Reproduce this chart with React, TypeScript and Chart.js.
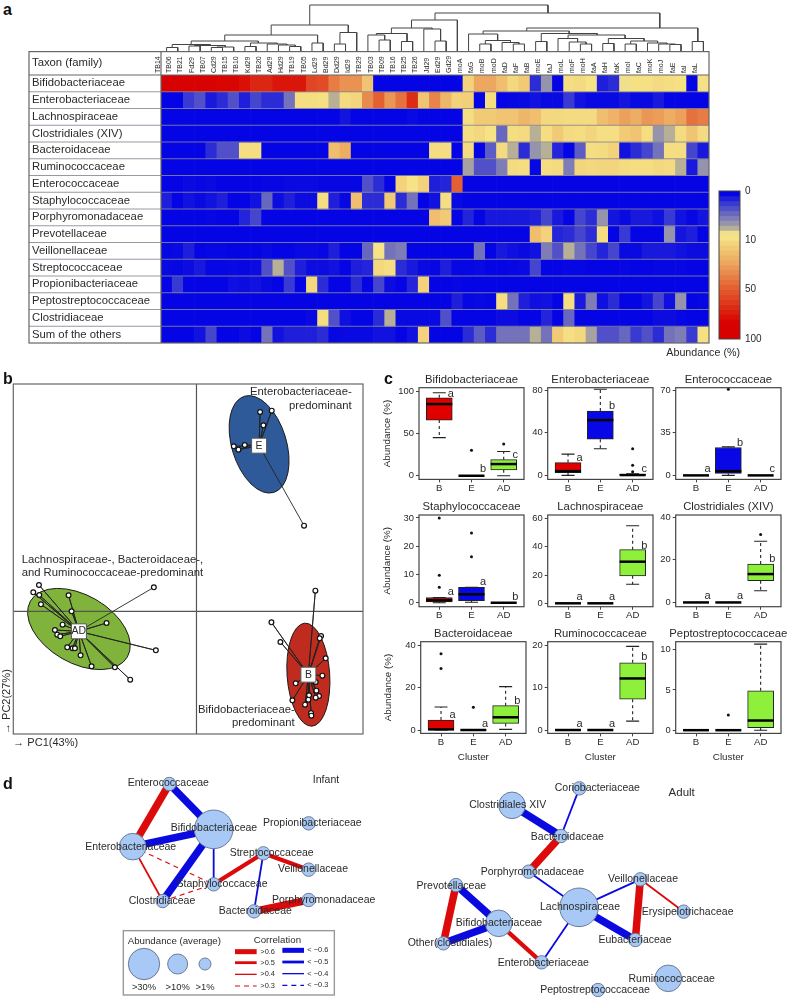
import React, { useEffect, useRef } from 'react';
import { Chart, registerables } from 'chart.js';
Chart.register(...registerables);

const FONT = '"Liberation Sans", Arial, sans-serif';
const INK = '#2a2a2a';

/* ---------- panel a data ---------- */
const samples = ['TB14','TB06','TB21','Fd29','TB07','Cd29','TB15','TB10','Kd29','TB20','Ad29','Hd29','TB19','TB05','Ld29','Bd29','Dd29','Id29','TB29','TB03','TB09','TB16','TB25','TB26','Jd29','Ed29','Gd29','moA','faG','moB','moD','faD','faF','faB','moE','faJ','moL','moF','moH','faA','faH','faK','moI','faC','moK','moJ','faE','faI','faL'];
const families = ['Bifidobacteriaceae','Enterobacteriaceae','Lachnospiraceae','Clostridiales (XIV)','Bacteroidaceae','Ruminococcaceae','Enterococcaceae','Staphylococcaceae','Porphyromonadaceae','Prevotellaceae','Veillonellaceae','Streptococcaceae','Propionibacteriaceae','Peptostreptococcaceae','Clostridiaceae','Sum of the others'];
const rowBifido = [95,88,86,86,86,84,84,80,72,72,78,78,78,60,58,42,36,36,20,0,0,0,0,0,0,0,0,15,30,30,22,13,18,1.5,6,0,11,12,9,1,1.5,8,10,10,12,11,10,0,10];
const rowEntero = [0,0,2,3,.8,1.5,3,1,2.5,1.5,1.5,4.5,11,11,10,7,12,14,38,50,35,45,70,20,40,25,15,16,0,11,0,.1,.2,.5,.2,.2,2,.5,.2,.2,.2,.6,.2,.2,.8,0,0,0,0];
const rowLachno = [0,0,0,0,0,0,0,0,0,0,0,0,0,0,0,0,.6,0,0,0,0,0,.2,0,0,0,0,11,18,18,20,20,25,22,13,13,12,12,12,22,26,32,28,35,33,28,32,45,42];
const rowClostXIV = [0,0,0,0,0,0,0,0,0,0,0,0,0,0,0,0,0,0,0,0,0,0,0,0,0,0,0,11,13,9,4,11,12,7,11,18,12,11,14,10.5,10.5,18,20,11,6,7,12,20,12];
const rowBacteroid = [0,0,0,0,1.5,3,3,11,11,0,0,0,0,0,0,22,28,0,0,0,0,0,0,0,11,11,0,12,0,3.5,12,7,1.5,6,7,1.2,0,3.5,11,12,15,.5,1.5,2.5,4.5,11,11,2.5,.8];
const rowRumino = [0,0,0,0,0,0,0,0,0,0,0,0,0,0,0,0,0,0,0,0,0,0,0,0,0,0,0,6.5,3,3,5,12,11,.1,11,12,5,14,13,14,14,12,11,11,13,12,7,.8,6];
const rowEnteroc = [0,0,.2,.1,.2,0,0,0,0,.1,.1,.2,.2,.2,.1,.1,.1,.1,3,1.5,0,15,9,15,1,1.2,50,0,0,0,0,0,0,0,0,0,0,0,0,0,0,0,0,0,0,0,0,0,0];
const rowStaph = [1,0,.5,.2,.5,1,0,0,.5,4,.3,1,.3,.3,11,1,.1,22,1.5,1.5,18,1.5,4.5,0,.5,11,.2,0,0,0,0,0,0,0,0,0,0,0,0,0,0,0,0,0,0,0,0,0,0];
const rowPorphyro = [0,0,0,0,.1,0,0,1.2,2.5,0,0,0,0,0,0,0,0,0,0,0,0,0,0,0,22,18,0,1.2,0,.7,.7,.8,.8,1,2.5,.8,0,2.5,1.5,6,.6,.2,.8,.8,.4,2,.5,.1,.6];
const rowPrevo = [0,0,0,0,0,0,0,0,0,0,0,0,0,0,0,0,0,0,0,0,0,0,0,0,0,0,0,0,0,0,0,0,0,22,15,1.2,1.5,2.5,1.5,11,0,2,0,0,0,6,.6,1,0];
const rowVeillon = [.1,.2,1,0,.1,.1,0,0,0,.2,0,0,.2,.2,.1,1,0,0,4,9,4.5,5,0,0,0,0,0,0,4.5,0,.8,.4,.2,.5,5,3,7,4.5,2.5,1.2,2.5,.2,.2,.8,.8,.8,.5,.3,.3];
const rowStrepto = [.2,.1,.3,.8,.1,.1,.2,.1,.3,3,7,3,1,.3,.3,.5,0,1,1.2,13,11,1.5,.8,.2,.1,1,.1,.1,.2,0,0,.1,.2,2.5,0,0,.1,.1,0,0,0,.1,0,0,.1,.1,.1,0,0];
const rowPropioni = [0,2,0,0,0,0,.4,.3,.5,.2,0,2,0,13,1.5,0,0,1.5,0,2.5,.3,0,1.2,15,0,0,.1,0,0,0,0,0,0,0,0,0,0,0,0,0,0,0,0,0,0,0,0,0,0];
const rowPepto = [0,0,0,0,0,0,0,0,0,0,0,0,0,0,0,0,0,0,0,0,0,0,0,0,0,0,1,.1,.2,.1,11,4.5,1,.4,.5,0,11,.8,5,.4,1.5,0,0,.6,2.5,.4,6,0,.1];
const rowClostridiac = [0,0,0,0,0,0,0,0,0,0,0,0,0,.2,11,3,.4,0,0,1.5,7,.2,.2,.2,.2,3,0,0,0,0,.3,.3,0,0,1.2,0,4,0,0,0,0,0,0,0,.3,.3,.1,0,0];
const rowOthers = [0,0,0,.5,2.5,0,0,.3,0,4.5,.5,1,1,1,1.5,.1,.2,.2,.2,.5,.5,0,.5,15,0,0,0,1.5,3.5,1.5,4.5,4.5,4.5,7,4.5,18,10.5,13,6.5,3,3,4,2,3,1.5,4.5,5,2,10];
const heatRows = [rowBifido,rowEntero,rowLachno,rowClostXIV,rowBacteroid,rowRumino,rowEnteroc,rowStaph,rowPorphyro,rowPrevo,rowVeillon,rowStrepto,rowPropioni,rowPepto,rowClostridiac,rowOthers];
const colorbarLevels = [0,1,2,3,4,5,6,7,8,9,14,18,22,26,30,34,38,42,46,50,55,60,65,70,75,80,85,90,95,100];
const colorbarTicks = [0,10,20,30];
const colorbarLabels = ['0','10','50','100'];

/* dendrogram merges: left leaf pos, left height, right leaf pos, right height, top height */
const dendrogram = [
  [0,0,1,0,3.5],[2,0,3,0,5],[4,0,5,0,3.5],[4.5,3.5,6,0,4],[2.5,5,5.25,4,5.5],[.5,3.5,3.9,5.5,6.5],
  [7,0,8,0,4.5],[11,0,12,0,4.5],[10,0,11.5,4.5,6],[9,0,10.75,6,7],[7.5,4.5,9.9,7,8],[2.2,6.5,8.2,8,10],
  [13,0,14,0,8],[5.2,10,13.5,8,16],[15,0,16,0,7],[15.5,7,17,0,18.5],[9.35,16,16.25,18.5,26],
  [19,0,20,0,11],[18,0,19.5,11,16],[21,0,22,0,9.5],[18.75,16,21.5,9.5,17.5],[24,0,25,0,10],[23,0,24.5,10,22],
  [20.1,17.5,23.75,22,23],[21.9,23,26,0,31],
  [28,0,29,0,7],[31,0,32,0,7],[30,0,31.5,7,8.5],[28.5,7,30.75,8.5,10.5],[27,0,29.6,10.5,17],
  [33,0,34,0,9.5],[37,0,38,0,7],[36,0,37.5,7,9],[35,0,36.75,9,12.5],[39,0,40,0,7.5],[41,0,42,0,7],
  [45,0,46,0,6.5],[44,0,45.5,6.5,7],[43,0,44.75,7,8],[41.5,7,43.9,8,10],[39.5,7.5,42.7,10,12.5],
  [35.9,12.5,41,12.5,16],[33.5,9.5,38.5,16,17.5],[28.3,17,36,17.5,20],[47,0,48,0,9.5],[32.2,20,47.5,9.5,23],
  [24,31,44.1,23,38],[12.8,26,34.1,38,46],
];

/* ---------- panel b data ---------- */
const pcaCentersX = [.376,-.706,.672];
const pcaCentersY = [.994,-.12,-.38];
const pcaCenterNames = ['E','AD','B'];
const pcaColors = ['#2e5a99','#80b33c','#bf2c1f'];
const pcaEllipseRx = [.164,.336,.128];
const pcaEllipseRy = [.302,.204,.31];
const pcaEllipseDeg = [-17,30,-4];
const pcaEX = [.382,.452,.402,.29,.224,.252,.646];
const pcaEY = [1.196,1.204,1.116,.998,.99,.97,.514];
const pcaADX = [-.946,-.98,-.944,-.934,-.768,-.75,-.804,-.85,-.836,-.818,-.776,-.744,-.73,-.696,-.63,-.49,-.398,-.54,-.244,-.256];
const pcaADY = [.158,.114,.098,.042,.096,0,-.08,-.112,-.14,-.15,-.216,-.222,-.222,-.264,-.33,-.336,-.41,-.07,-.234,.144];
const pcaBX = [.714,.45,.504,.748,.74,.776,.756,.596,.716,.72,.676,.736,.716,.672,.576,.652,.688,.69];
const pcaBY = [.124,-.066,-.184,-.148,-.162,-.282,-.386,-.432,-.424,-.476,-.504,-.508,-.518,-.53,-.534,-.56,-.61,-.626];
const pcaNotes: [number,number,string,CanvasTextAlign][] = [
  [.932,1.316,'Enterobacteriaceae-','right'],[.932,1.234,'predominant','right'],
  [-1.05,.308,'Lachnospiraceae-, Bacteroidaceae-,','left'],[-1.05,.228,'and Ruminococcaceae-predominant','left'],
  [.59,-.592,'Bifidobacteriaceae-','right'],[.59,-.672,'predominant','right'],
];

/* ---------- panel c data: [low, q1, median, q3, high] for B, E, AD ---------- */
const clusters = ['B','E','AD'];
const boxBifido = [[45,65.7,84.6,92,98],[0,0,0,0,0],[0,7,13.8,19,28.7]];
const boxEntero = [[0,2.5,4,12,20],[25,34,52,60.5,81],[0,0,.3,1,1.5]];
const boxEnteroc = [[0,0,0,0,0],[0,1.6,3.5,23,23.5],[0,0,0,0,0]];
const boxStaph = [[0,.3,.9,1.8,1.8],[.2,.7,3,5.5,5.5],[0,0,0,0,0]];
const boxLachno = [[0,0,0,0,0],[0,0,0,0,0],[13.5,19.5,29.5,38,55]];
const boxClostXIV = [[0,0,0,0,0],[0,0,0,0,0],[5.5,10.2,13.3,18,28.7]];
const boxBacteroid = [[0,0,.3,4.7,10.9],[0,0,0,0,0],[.3,3.1,6,11.5,20.5]];
const boxRumino = [[0,0,0,0,0],[0,0,0,0,0],[2.1,7.3,12.2,15.9,19.8]];
const boxPepto = [[0,0,0,0,0],[0,0,0,0,0],[0,.3,1.2,4.9,10.7]];
const outBifido = [[2,30],[3,37.5]];
const outEntero = [[3,25],[3,9.5],[3,3.5]];
const outEnteroc = [[2,71]];
const outStaph = [[1,30],[1,9.7],[1,5.5],[2,24.7],[2,16.3]];
const outLachno: number[][] = [];
const outClostXIV = [[3,31.8]];
const outBacteroid = [[1,36],[1,29],[2,10.7]];
const outRumino: number[][] = [];
const outPepto = [[2,1.9]];
const panelTitles = ['Bifidobacteriaceae','Enterobacteriaceae','Enterococcaceae','Staphylococcaceae','Lachnospiraceae','Clostridiales (XIV)','Bacteroidaceae','Ruminococcaceae','Peptostreptococcaceae'];
const panelBoxes = [boxBifido,boxEntero,boxEnteroc,boxStaph,boxLachno,boxClostXIV,boxBacteroid,boxRumino,boxPepto];
const panelOutliers = [outBifido,outEntero,outEnteroc,outStaph,outLachno,outClostXIV,outBacteroid,outRumino,outPepto];
const panelTicks = [[0,50,100],[0,40,80],[0,35,70],[0,10,20,30],[0,20,40,60],[0,20,40],[0,20,40],[0,10,20],[0,5,10]];
const panelMin = [-4.3,-3.8,-3.3,-1.4,-2.4,-2,-1.6,-.8,-.4];
const panelMax = [103.9,82.5,72.2,31.06,62.6,41,41.7,20.9,11];
const panelLetters = [['a','b','c'],['a','b','c'],['a','b','c'],['a','a','b'],['a','a','b'],['a','a','b'],['a','a','b'],['a','a','b'],['','','']];
const panelLetterY = [[97,7.5,24.4],[16.3,65,5.6],[5,27,5.2],[3.7,7.2,2.2],[4.7,4.7,41],[2.8,2.8,20.6],[7,3,13.9],[1.5,1.5,17.2],[0,0,0]];

/* ---------- panel d data (layout units) ---------- */
const infantNodes = ['Enterococcaceae','Bifidobacteriaceae','Enterobacteriaceae','Propionibacteriaceae','Streptococcaceae','Veillonellaceae','Staphylococcaceae','Clostridiaceae','Porphyromonadaceae','Bacteroidaceae'];
const infantX = [508,641,398,926,790,926,641,488,926,762];
const infantY = [42,178,230,160,250,299,343,393,390,424];
const infantAbundance = [3,40,15,3,3,3,3,3,3,3];
const infantLabelX = [505,642,392,937,815,939,666,486,971,766];
const infantLabelY = [40,174,230,160,250,298,343,393,390,424];
const infantEdges: [number,number,number][] = [[0,2,.6],[0,1,-.6],[2,1,-.6],[1,7,-.6],[1,6,-.4],[2,7,.4],[2,6,.3],[7,6,.3],[6,4,.5],[4,5,.5],[4,9,-.4],[9,8,.6]];
const adultNodes = ['Clostridiales XIV','Coriobacteriaceae','Bacteroidaceae','Porphyromonadaceae','Lachnospiraceae','Veillonellaceae','Erysipelotrichaceae','Eubacteriaceae','Prevotellaceae','Bifidobacteriaceae','Other(clostidiales)','Enterobacteriaceae','Ruminococcaceae','Peptostreptococcaceae'];
const adultX = [1536,1738,1683,1586,1737,1921,2051,1906,1368,1496,1330,1625,2005,1794];
const adultY = [106,55,198,305,412,328,425,510,345,460,520,577,625,660];
const adultAbundance = [15,3,3,3,40,3,3,3,3,15,3,3,15,3];
const adultLabelX = [1523,1792,1702,1597,1740,1929,2063,1905,1354,1497,1350,1630,2015,1785];
const adultLabelY = [106,55,200,305,412,326,427,511,347,459,520,579,627,660];
const adultEdges: [number,number,number][] = [[0,2,-.6],[1,2,-.4],[2,3,.6],[3,4,-.4],[4,5,-.4],[4,7,-.6],[4,11,-.4],[5,7,.6],[5,6,.4],[8,10,.6],[8,9,-.6],[10,9,-.6],[9,11,.5]];
const legendCircleX = [432,533,615];
const legendCircleY = [582,582,582];
const legendCircleR = [15.7,10,6];
const legendCircleLabels = ['>30%','>10%','>1%'];
const legendStrengths = [.6,.5,.4,.3];
const legendRedY = [545,578,613,648];
const legendBlueY = [541,576,611,646];
const legendRedLabels = ['>0.6','>0.5','>0.4','>0.3'];
const legendBlueLabels = ['< \u22120.6','< \u22120.5','< \u22120.4','< \u22120.3'];

/* ---------- helpers ---------- */
const colorStops: [number,number,number,number][] = [
  [0,4,4,228],[.07,60,60,210],[.2,150,148,172],[.24,190,182,146],[.27,247,229,138],[.333,245,224,132],
  [.5,236,168,96],[.667,227,96,50],[.8,221,44,20],[.9,216,2,2],[1,216,0,0],
];
function abundanceColor(v: number) {
  const t = v <= 10 ? v / 30 : v <= 50 ? 1 / 3 + (v - 10) / 120 : 2 / 3 + (v - 50) / 150;
  for (let i = 1; i < colorStops.length; i++) {
    const a = colorStops[i - 1], b = colorStops[i];
    if (t <= b[0]) {
      const f = (t - a[0]) / (b[0] - a[0]);
      const c = [1, 2, 3].map((k) => Math.round(a[k] + (b[k] - a[k]) * f));
      return `rgb(${c[0]},${c[1]},${c[2]})`;
    }
  }
  return 'rgb(216,0,0)';
}
const fixTicks = (vals: number[]) => (s: any) => { s.ticks = vals.map((value) => ({ value })); };
const baseOptions = { responsive: false, animation: false as const, events: [] as any[] };
const hiddenPlugins = { legend: { display: false }, tooltip: { enabled: false }, title: { display: false } };
function text(ctx: any, s: string, x: number, y: number, size: number, align: CanvasTextAlign = 'center', color = INK, weight = 'normal') {
  ctx.save();
  ctx.font = `${weight} ${size}px ${FONT}`;
  ctx.fillStyle = color;
  ctx.textAlign = align;
  ctx.textBaseline = 'middle';
  ctx.fillText(s, x, y);
  ctx.restore();
}

/* ---------- panel a ---------- */
function heatConfig(): any {
  const datasets = heatRows.map((row, r) => ({
    label: families[r],
    data: row.map(() => 1),
    backgroundColor: row.map(abundanceColor),
    borderWidth: 0,
    yAxisID: 'y',
    barPercentage: 1,
    categoryPercentage: 1,
  }));
  const table = {
    id: 'table',
    afterDatasetsDraw(chart: any) {
      const { ctx, chartArea: a, scales } = chart;
      ctx.save();
      for (let i = 1; i < 16; i++) {
        const y = scales.y.getPixelForValue(i);
        ctx.strokeStyle = 'rgba(135,135,150,0.85)';
        ctx.lineWidth = 1;
        ctx.beginPath(); ctx.moveTo(29, y); ctx.lineTo(a.right, y); ctx.stroke();
      }
      ctx.strokeStyle = '#666';
      ctx.lineWidth = 1.2;
      ctx.strokeRect(29, 0.6, a.right - 29, a.bottom - 0.6);
      ctx.beginPath();
      ctx.moveTo(29, a.top); ctx.lineTo(a.right, a.top);
      ctx.moveTo(a.left, 0.6); ctx.lineTo(a.left, a.bottom);
      ctx.stroke();
      text(ctx, 'Taxon (family)', 32, 12.3, 11.3, 'left');
      text(ctx, 'Abundance (%)', 740, a.bottom + 10, 10.7, 'right');
      ctx.restore();
    },
  };
  return {
    type: 'bar',
    data: { labels: samples, datasets },
    plugins: [table],
    options: {
      ...baseOptions,
      layout: { autoPadding: false, padding: { left: 32, right: 36, top: 0, bottom: 18 } },
      plugins: hiddenPlugins,
      scales: {
        x: {
          position: 'top', stacked: true, grid: { display: false, drawTicks: false }, border: { display: false },
          ticks: { autoSkip: false, maxRotation: 90, minRotation: 90, padding: 2, color: INK, font: { size: 7, family: FONT } },
          afterFit: (s: any) => { s.height = 24; },
        },
        y: { display: false, stacked: true, reverse: true, min: 0, max: 16 },
        y2: {
          type: 'category', labels: families, position: 'left', offset: true,
          grid: { display: false, drawTicks: false }, border: { display: false },
          ticks: { autoSkip: false, crossAlign: 'far', padding: 0, color: INK, font: { size: 11.3, family: FONT } },
          afterFit: (s: any) => { s.width = 129; },
        },
      },
    },
  };
}
function dendroConfig(): any {
  return {
    type: 'scatter',
    data: {
      datasets: dendrogram.map((m) => ({
        data: [{ x: m[0], y: m[1] }, { x: m[0], y: m[4] }, { x: m[2], y: m[4] }, { x: m[2], y: m[3] }],
        showLine: true, borderColor: '#444', borderWidth: 1, pointRadius: 0, tension: 0, clip: false,
      })),
    },
    options: {
      ...baseOptions,
      layout: { autoPadding: false },
      plugins: hiddenPlugins,
      scales: {
        x: { display: false, min: -.5, max: 48.5 },
        y: { display: false, min: 0, max: 51 },
      },
    },
  };
}
function colorbarConfig(): any {
  return {
    type: 'bar',
    data: {
      labels: ['bar'],
      datasets: colorbarLevels.map((v) => ({ data: [1], backgroundColor: abundanceColor(v), borderWidth: 0, barPercentage: 1, categoryPercentage: 1 })),
    },
    plugins: [{
      id: 'frame',
      afterDatasetsDraw(chart: any) {
        const { ctx, chartArea: a } = chart;
        ctx.save(); ctx.strokeStyle = '#444'; ctx.lineWidth = 1;
        ctx.strokeRect(a.left, a.top, a.right - a.left, a.bottom - a.top);
        ctx.restore();
      },
    }],
    options: {
      ...baseOptions,
      layout: { autoPadding: false, padding: { left: 4, top: 8, bottom: 8 } },
      plugins: hiddenPlugins,
      scales: {
        x: { display: false, stacked: true },
        y: {
          position: 'right', stacked: true, reverse: true, min: 0, max: 30,
          grid: { display: false, drawTicks: false }, border: { display: false },
          afterBuildTicks: fixTicks(colorbarTicks),
          ticks: { padding: 5, color: INK, font: { size: 10, family: FONT }, callback: (v: number) => colorbarLabels[colorbarTicks.indexOf(v)] },
          afterFit: (s: any) => { s.width = 48; },
        },
      },
    },
  };
}

/* ---------- panel b ---------- */
function pcaConfig(): any {
  const xMin = -1.1, xMax = 1, yMin = -.736, yMax = 1.364;
  const groups = [[pcaEX, pcaEY], [pcaADX, pcaADY], [pcaBX, pcaBY]];
  const points: any[] = [];
  const spokeSets = groups.map(([xs, ys], g) => {
    const spokes: any[] = [];
    xs.forEach((x, i) => {
      spokes.push({ x: pcaCentersX[g], y: pcaCentersY[g] }, { x, y: ys[i] });
      points.push({ x, y: ys[i] });
    });
    return { data: spokes, showLine: true, pointRadius: 0, borderColor: '#222', borderWidth: .9, tension: 0, order: 3 };
  });
  const decor = {
    id: 'decor',
    beforeDatasetsDraw(chart: any) {
      const { ctx, scales: { x, y } } = chart;
      const unit = x.getPixelForValue(1) - x.getPixelForValue(0);
      ctx.save();
      pcaColors.forEach((col, i) => {
        ctx.beginPath();
        ctx.ellipse(x.getPixelForValue(pcaCentersX[i]), y.getPixelForValue(pcaCentersY[i] + (i === 1 ? .014 : i === 0 ? .008 : 0)), pcaEllipseRx[i] * unit, pcaEllipseRy[i] * unit, pcaEllipseDeg[i] * Math.PI / 180, 0, Math.PI * 2);
        ctx.fillStyle = col; ctx.fill();
        ctx.strokeStyle = '#1a1a1a'; ctx.lineWidth = 1; ctx.stroke();
      });
      ctx.restore();
    },
    afterDatasetsDraw(chart: any) {
      const { ctx, chartArea: a, scales: { x, y } } = chart;
      ctx.save();
      ctx.strokeStyle = '#666'; ctx.lineWidth = 1.2;
      ctx.strokeRect(a.left, a.top, a.right - a.left, a.bottom - a.top);
      ctx.restore();
      pcaCenterNames.forEach((n, i) => text(ctx, n, x.getPixelForValue(pcaCentersX[i]), y.getPixelForValue(pcaCentersY[i]), 10.5));
      pcaNotes.forEach(([px, py, s, al]) => text(ctx, s, x.getPixelForValue(px), y.getPixelForValue(py), 11.3, al));
    },
  };
  return {
    type: 'scatter',
    data: {
      datasets: [
        { data: pcaCentersX.map((cx, i) => ({ x: cx, y: pcaCentersY[i] })), pointStyle: 'rect', pointRadius: 10.6, backgroundColor: '#fff', borderColor: '#555', borderWidth: 1, order: 1 },
        { data: points, pointRadius: 2.4, backgroundColor: '#fff', borderColor: '#111', borderWidth: 1.2, order: 2 },
        ...spokeSets,
        { data: [{ x: 0, y: yMin }, { x: 0, y: yMax }], showLine: true, pointRadius: 0, borderColor: '#555', borderWidth: 1.2, order: 4 },
        { data: [{ x: xMin, y: 0 }, { x: xMax, y: 0 }], showLine: true, pointRadius: 0, borderColor: '#555', borderWidth: 1.2, order: 4 },
      ],
    },
    plugins: [decor],
    options: {
      ...baseOptions,
      layout: { autoPadding: false, padding: { top: 9, right: 9 } },
      plugins: hiddenPlugins,
      scales: {
        x: {
          min: xMin, max: xMax, grid: { display: false }, border: { display: false }, ticks: { display: false },
          title: { display: true, text: '\u2192 PC1(43%)', align: 'start', color: INK, padding: 0, font: { size: 11, family: FONT } },
          afterFit: (s: any) => { s.height = 16; },
        },
        y: {
          min: yMin, max: yMax, grid: { display: false }, border: { display: false }, ticks: { display: false },
          title: { display: true, text: '\u2192 PC2(27%)', align: 'start', color: INK, padding: 0, font: { size: 11, family: FONT } },
          afterFit: (s: any) => { s.width = 13.3; },
        },
      },
    },
  };
}

/* ---------- panel c ---------- */
const boxColors = ['#e00000', '#0808e6', '#8ff03c'];
const BOX_LEFT = [[419, 547.7, 675.7], [419, 547.7, 675.7], [420.7, 547.7, 675.7]];
const BOX_TOP = [387.7, 515, 641.7];
const BOX_W = 105, BOX_H = 91.7, AXIS_W = 38, AXIS_H = 30, PAD_TOP = 20, PAD_RIGHT = 14;

function boxConfig(p: number, padTop: number, padBottom: number, axisW: number, col: number, row: number): any {
  const boxes = panelBoxes[p];
  const deco = {
    id: 'boxDeco',
    beforeDatasetsDraw(chart: any) {
      const { ctx, scales: { x, y } } = chart;
      ctx.save();
      ctx.strokeStyle = '#222'; ctx.lineWidth = 1.1;
      boxes.forEach((b, i) => {
        if (b[4] === b[0]) return;
        const px = x.getPixelForValue(i + 1);
        ctx.setLineDash([3, 3]);
        ctx.beginPath();
        ctx.moveTo(px, y.getPixelForValue(b[3])); ctx.lineTo(px, y.getPixelForValue(b[4]));
        ctx.moveTo(px, y.getPixelForValue(b[1])); ctx.lineTo(px, y.getPixelForValue(b[0]));
        ctx.stroke();
        ctx.setLineDash([]);
        ctx.beginPath();
        ctx.moveTo(px - 6.5, y.getPixelForValue(b[4])); ctx.lineTo(px + 6.5, y.getPixelForValue(b[4]));
        ctx.moveTo(px - 6.5, y.getPixelForValue(b[0])); ctx.lineTo(px + 6.5, y.getPixelForValue(b[0]));
        ctx.stroke();
      });
      ctx.restore();
    },
    afterDatasetsDraw(chart: any) {
      const { ctx, chartArea: a, scales: { x, y } } = chart;
      ctx.save();
      ctx.strokeStyle = '#000'; ctx.lineWidth = 2.5;
      boxes.forEach((b, i) => {
        const px = x.getPixelForValue(i + 1), py = y.getPixelForValue(b[2]);
        ctx.beginPath(); ctx.moveTo(px - 13, py); ctx.lineTo(px + 13, py); ctx.stroke();
      });
      ctx.strokeStyle = '#444'; ctx.lineWidth = 1.2;
      ctx.strokeRect(a.left, a.top, a.right - a.left, a.bottom - a.top);
      ctx.restore();
      text(ctx, panelTitles[p], (a.left + a.right) / 2, a.top - 8, 11.3);
      panelLetters[p].forEach((l, i) => {
        if (l) text(ctx, l, x.getPixelForValue(i + 1.36), y.getPixelForValue(panelLetterY[p][i]), 11);
      });
    },
  };
  return {
    type: 'bar',
    data: {
      datasets: [
        {
          data: boxes.map((b, i) => ({ x: i + 1, y: [b[1], b[3]] })),
          backgroundColor: boxColors, borderColor: '#222', borderWidth: 1, borderSkipped: false, barThickness: 26, order: 2,
        },
        {
          type: 'scatter',
          data: panelOutliers[p].map((o) => ({ x: o[0], y: o[1] })),
          pointRadius: 1.5, backgroundColor: '#111', borderWidth: 0, order: 1,
        },
      ],
    },
    plugins: [deco],
    options: {
      ...baseOptions,
      layout: { autoPadding: false, padding: { top: padTop, right: PAD_RIGHT, bottom: padBottom } },
      plugins: hiddenPlugins,
      scales: {
        x: {
          type: 'linear', min: .371, max: 3.63, offset: false,
          grid: { display: true, offset: false, drawOnChartArea: false, tickLength: 3, color: '#444' },
          border: { display: false },
          afterBuildTicks: fixTicks([1, 2, 3]),
          ticks: { autoSkip: false, maxRotation: 0, padding: 0, color: INK, font: { size: 9.6, family: FONT }, callback: (v: number) => clusters[v - 1] },
          title: { display: row === 2, text: 'Cluster', color: INK, padding: 0, font: { size: 9.8, family: FONT } },
          afterFit: (s: any) => { s.height = AXIS_H; },
        },
        y: {
          min: panelMin[p], max: panelMax[p],
          grid: { display: true, drawOnChartArea: false, tickLength: 3, color: '#444' },
          border: { display: false },
          afterBuildTicks: fixTicks(panelTicks[p]),
          ticks: { autoSkip: false, padding: 2, color: INK, font: { size: 9.4, family: FONT } },
          title: { display: col === 0, text: 'Abundance (%)', color: INK, padding: 0, font: { size: 9.8, family: FONT } },
          afterFit: (s: any) => { s.width = axisW; },
        },
      },
    },
  };
}

/* ---------- panel d ---------- */
const nodeRadius = (abundance: number) => (abundance >= 30 ? 19.3 : abundance >= 10 ? 13.3 : 6.7);
const edgeWidth = (c: number) => { const a = Math.abs(c); return a >= .6 ? 7.5 : a >= .5 ? 4.2 : a >= .4 ? 1.8 : 1.1; };
const legendWidth = (c: number) => { const a = Math.abs(c); return a >= .6 ? 5 : a >= .5 ? 2.8 : a >= .4 ? 1.3 : 1.1; };
function edgeDataset(x1: number, y1: number, x2: number, y2: number, c: number, width = edgeWidth(c)) {
  return {
    data: [{ x: x1, y: y1 }, { x: x2, y: y2 }],
    showLine: true, pointRadius: 0, tension: 0, order: 5,
    borderColor: c > 0 ? '#dc0a0a' : '#0a0ae0', borderWidth: width,
    borderDash: Math.abs(c) < .4 ? [5, 4] : [],
  };
}
function networkConfig(): any {
  const nodeSet = (xs: number[], ys: number[], ab: number[]) => ({
    data: xs.map((x, i) => ({ x, y: ys[i] })),
    pointRadius: ab.map(nodeRadius), backgroundColor: '#a8c9f5', borderColor: '#6d7c96', borderWidth: 1, order: 1,
  });
  const datasets: any[] = [
    nodeSet(infantX, infantY, infantAbundance),
    nodeSet(adultX, adultY, adultAbundance),
    {
      data: legendCircleX.map((x, i) => ({ x, y: legendCircleY[i] })),
      pointRadius: legendCircleR, backgroundColor: '#a8c9f5', borderColor: '#6d7c96', borderWidth: 1, order: 1,
    },
    ...infantEdges.map(([a, b, c]) => edgeDataset(infantX[a], infantY[a], infantX[b], infantY[b], c)),
    ...adultEdges.map(([a, b, c]) => edgeDataset(adultX[a], adultY[a], adultX[b], adultY[b], c)),
    ...legendStrengths.map((c, i) => edgeDataset(705, legendRedY[i], 770, legendRedY[i], c, legendWidth(c))),
    ...legendStrengths.map((c, i) => edgeDataset(847, legendBlueY[i], 912, legendBlueY[i], -c, legendWidth(c))),
  ];
  const deco = {
    id: 'netDeco',
    beforeDatasetsDraw(chart: any) {
      const { ctx, scales: { x, y } } = chart;
      const l = x.getPixelForValue(370), r = x.getPixelForValue(1003), t = y.getPixelForValue(482), b = y.getPixelForValue(675);
      ctx.save(); ctx.fillStyle = '#fff'; ctx.fillRect(l, t, r - l, b - t);
      ctx.strokeStyle = '#999'; ctx.lineWidth = 1.4; ctx.strokeRect(l, t, r - l, b - t); ctx.restore();
    },
    afterDatasetsDraw(chart: any) {
      const { ctx, scales: { x, y } } = chart;
      const put = (s: string, px: number, py: number, size: number, al: CanvasTextAlign = 'center') => text(ctx, s, x.getPixelForValue(px), y.getPixelForValue(py), size, al);
      infantNodes.forEach((n, i) => put(n, infantLabelX[i], infantLabelY[i], 10.5));
      adultNodes.forEach((n, i) => put(n, adultLabelX[i], adultLabelY[i], 10.5));
      put('Infant', 978, 31, 10.5);
      put('Adult', 2045, 68, 11.5);
      put('Abundance (average)', 523, 514, 9.7);
      put('Correlation', 832, 512, 9.7);
      legendCircleLabels.forEach((s, i) => put(s, legendCircleX[i], 652, 9.4));
      legendRedLabels.forEach((s, i) => put(s, 781, legendRedY[i], 7.4, 'left'));
      legendBlueLabels.forEach((s, i) => put(s, 922, legendBlueY[i], 7.4, 'left'));
    },
  };
  return {
    type: 'scatter',
    data: { datasets },
    plugins: [deco],
    options: {
      ...baseOptions,
      layout: { autoPadding: false },
      plugins: hiddenPlugins,
      scales: {
        x: { display: false, min: 0, max: 2364 },
        y: { display: false, min: 0, max: 681, reverse: true },
      },
    },
  };
}

/* ---------- page ---------- */
function ChartBox({ left, top, width, height, make }: { left: number; top: number; width: number; height: number; make: () => any }) {
  const ref = useRef<HTMLCanvasElement>(null);
  useEffect(() => {
    const c = new Chart(ref.current as HTMLCanvasElement, make());
    return () => c.destroy();
  }, []);
  return <canvas ref={ref} width={width} height={height} style={{ position: 'absolute', left, top, width, height, display: 'block' }} />;
}
const letterStyle = (left: number, top: number): React.CSSProperties => ({
  position: 'absolute', left, top, font: `bold 16px ${FONT}`, color: '#111', lineHeight: '16px',
});

export default function App() {
  const boxCharts: any[] = [];
  panelBoxes.forEach((_, p) => {
    const row = Math.floor(p / 3), col = p % 3;
    const L = BOX_LEFT[row][col], T = BOX_TOP[row];
    const left = Math.floor(L - AXIS_W), top = Math.floor(T - PAD_TOP);
    const padTop = T - top, axisW = L - left;
    const width = Math.ceil(axisW + BOX_W + PAD_RIGHT);
    const height = Math.ceil(padTop + BOX_H + AXIS_H);
    const padBottom = height - (padTop + BOX_H + AXIS_H);
    boxCharts.push(
      <ChartBox key={p} left={left} top={top} width={width} height={height} make={() => boxConfig(p, padTop, padBottom, axisW, col, row)} />
    );
  });
  return (
    <div style={{ position: 'absolute', left: 0, top: 0, width: 788, height: 997, background: '#fff', overflow: 'hidden', filter: 'blur(0.3px)' }}>
      <ChartBox left={161} top={0} width={548} height={51} make={dendroConfig} />
      <ChartBox left={0} top={51} width={745} height={310} make={heatConfig} />
      <ChartBox left={715} top={180} width={73} height={170} make={colorbarConfig} />
      <ChartBox left={0} top={375} width={372} height={375} make={pcaConfig} />
      {boxCharts}
      <ChartBox left={0} top={770} width={788} height={227} make={networkConfig} />
      <div style={letterStyle(3, 2)}>a</div>
      <div style={letterStyle(3, 371)}>b</div>
      <div style={letterStyle(384, 371)}>c</div>
      <div style={letterStyle(3, 776)}>d</div>
    </div>
  );
}
